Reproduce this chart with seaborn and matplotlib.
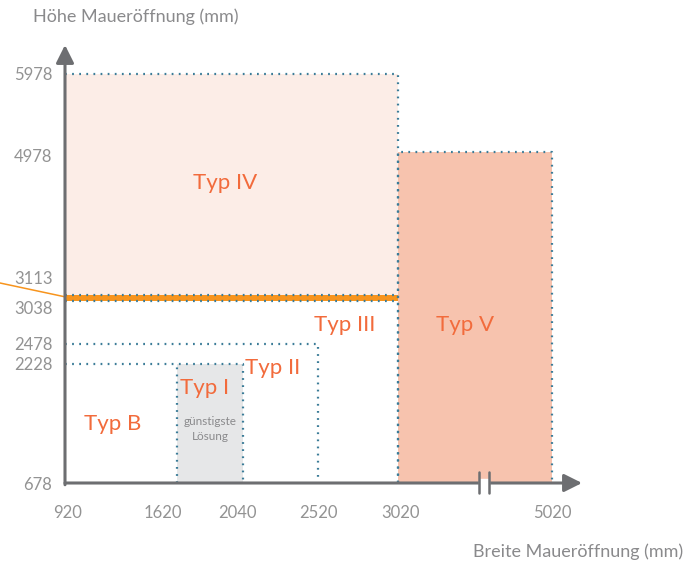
import numpy as np
import matplotlib
matplotlib.use("Agg")
import matplotlib.pyplot as plt
import matplotlib.transforms as mtransforms
import seaborn as sns

# ---------------- data ----------------
x_ticks = [920, 1620, 2040, 2520, 3020, 5020]
y_ticks = [678, 2228, 2478, 3038, 3113, 4978, 5978]

# regions: name, x0, x1, y0, y1
typ4 = dict(x0=920, x1=3020, y0=3113, y1=5978)
typ5 = dict(x0=3020, x1=5020, y0=678, y1=4978)
typ1 = dict(x0=1620, x1=2040, y0=678, y1=2228)
typ2 = dict(x1=2520, y1=2478)
typ3 = dict(x1=3020, y1=3038)
band = dict(x0=920, x1=3020, y0=3038, y1=3113)

labels = ["Typ IV", "Typ III", "Typ V", "Typ II", "Typ I", "Typ B"]
label_x = [1925, 2689, 3890, 2232, 1798, 1220]
label_y = [4574, 2725, 2725, 2176, 1915, 1447]

# ---------------- scales (piecewise, non-linear axes) ----------------
X_KNOTS = np.array([0, 920, 1620, 2040, 2520, 3020, 5020, 8000], float)
X_PIX = np.array([-82, 65, 177, 243, 318, 398, 552, 552 + 2980 * 154 / 2000])
Y_KNOTS = np.array([0, 678, 2228, 2478, 3038, 3113, 4978, 5978, 9000], float)
Y_PIX = np.array([33, 85, 204, 224, 267, 273, 416, 494, 494 + 3022 * 0.078])


def xf(v):
    return np.interp(v, X_KNOTS, X_PIX)


def xi(v):
    return np.interp(v, X_PIX, X_KNOTS)


def yf(v):
    return np.interp(v, Y_KNOTS, Y_PIX)


def yi(v):
    return np.interp(v, Y_PIX, Y_KNOTS)


sns.set_theme(style="white")
plt.rcParams["font.family"] = ["Lato", "DejaVu Sans"]

W, H = 699, 568
fig = plt.figure(figsize=(W / 100, H / 100), dpi=100)
L, R, B, T = 65, 582, 568 - 483, 568 - 45
ax = fig.add_axes([L / W, B / H, (R - L) / W, (T - B) / H])
ax.set_xscale("function", functions=(xf, xi))
ax.set_yscale("function", functions=(yf, yi))
ax.set_xlim(920, xi(R))
ax.set_ylim(678, yi(T))
ax.patch.set_alpha(0)

DOT = "#3b7c98"
dot_kw = dict(color=DOT, lw=1.6, linestyle=(0, (0.8, 2.4)), clip_on=False, zorder=4)

# fills
ax.fill_between([typ4["x0"], typ4["x1"]], typ4["y0"], typ4["y1"], color="#fcede7", lw=0, zorder=1)
ax.fill_between([typ5["x0"], typ5["x1"]], typ5["y0"], typ5["y1"], color="#f7c3ae", lw=0, zorder=1)
ax.fill_between([typ1["x0"], typ1["x1"]], typ1["y0"], typ1["y1"], color="#e6e7e8", lw=0, zorder=1)
ax.fill_between([band["x0"], band["x1"]], band["y0"], band["y1"], color="#f7941d", lw=0, zorder=3)

# dotted outlines
ax.plot([920, typ4["x1"], typ4["x1"]], [typ4["y1"], typ4["y1"], 678], **dot_kw)
ax.plot([typ5["x0"], typ5["x0"], typ5["x1"], typ5["x1"]], [678, typ5["y1"], typ5["y1"], 678], **dot_kw)
ax.plot([920, typ3["x1"]], [typ3["y1"], typ3["y1"]], **dot_kw)
ax.plot([920, typ4["x1"]], [typ4["y0"], typ4["y0"]], **dot_kw)
ax.plot([920, typ2["x1"], typ2["x1"]], [typ2["y1"], typ2["y1"], 678], **dot_kw)
ax.plot([920, typ1["x0"]], [typ1["y1"], typ1["y1"]], **dot_kw)
ax.plot([typ1["x0"], typ1["x0"], typ1["x1"], typ1["x1"]], [678, typ1["y1"], typ1["y1"], 678], **dot_kw)

# thin orange leader line
ax.annotate("", xy=(920, 3090), xycoords="data", xytext=(0, 568 - 283),
            textcoords="figure pixels",
            arrowprops=dict(arrowstyle="-", color="#f7941d", lw=1.1, shrinkA=0, shrinkB=0),
            zorder=5)

# labels
ORANGE = "#f26b3c"
for t, x, y in zip(labels, label_x, label_y):
    ax.text(x, y, t, ha="center", va="center", color=ORANGE, fontsize=16, zorder=6)
ax.text(1830, 1382, "günstigste\nLösung", ha="center", va="center", color="#8a8a8c",
        fontsize=8.5, linespacing=1.35, zorder=6)

# axes with arrows
for s in ax.spines.values():
    s.set_visible(False)
AX = "#6d6e71"
ax.annotate("", xy=(1, 0), xytext=(0, 0), xycoords="axes fraction",
            arrowprops=dict(arrowstyle="-|>,head_length=0.9,head_width=0.45", color=AX, lw=2.2,
                            shrinkA=0, shrinkB=0), zorder=7)
ax.annotate("", xy=(0, 1), xytext=(0, -0.004), xycoords="axes fraction",
            arrowprops=dict(arrowstyle="-|>,head_length=0.9,head_width=0.45", color=AX, lw=2.2,
                            shrinkA=0, shrinkB=0), zorder=7)

# axis break
bx0, bx1 = (479 - L) / (R - L), (489 - L) / (R - L)
ax.add_patch(plt.Rectangle((bx0, -0.01), bx1 - bx0, 0.02, transform=ax.transAxes,
                           color="white", clip_on=False, zorder=8))
for bx in (bx0, bx1):
    ax.plot([bx, bx], [-10 / (T - B), 11 / (T - B)], transform=ax.transAxes, color=AX,
            lw=1.8, clip_on=False, zorder=9)

# ticks
TICK = "#939393"
ax.set_xticks(x_ticks)
ax.set_xticklabels([str(v) for v in x_ticks])
ax.set_yticks(y_ticks)
ax.set_yticklabels([str(v) for v in y_ticks])
ax.minorticks_off()
ax.tick_params(axis="x", length=0, pad=16, labelsize=12, labelcolor=TICK)
ax.tick_params(axis="y", length=0, pad=9, labelsize=12, labelcolor=TICK)

x_off = {1620: -14, 2040: -6, 3020: 3, 920: 3}
y_off = {3113: 17, 3038: -6, 4978: -3}
for v, lab in zip(x_ticks, ax.get_xticklabels()):
    dx = x_off.get(v, 0) * 0.72
    lab.set_transform(lab.get_transform() + mtransforms.ScaledTranslation(dx / 72, 0, fig.dpi_scale_trans))
for v, lab in zip(y_ticks, ax.get_yticklabels()):
    dy = y_off.get(v, 0) * 0.72
    lab.set_transform(lab.get_transform() + mtransforms.ScaledTranslation(0, dy / 72, fig.dpi_scale_trans))

fig.text(33 / W, 1 - 17 / H, "Höhe Maueröffnung (mm)", ha="left", va="center",
         color="#8a8a8c", fontsize=13)
fig.text(683 / W, 1 - 552 / H, "Breite Maueröffnung (mm)", ha="right", va="center",
         color="#8a8a8c", fontsize=13)

fig.savefig("out.png", dpi=100)
